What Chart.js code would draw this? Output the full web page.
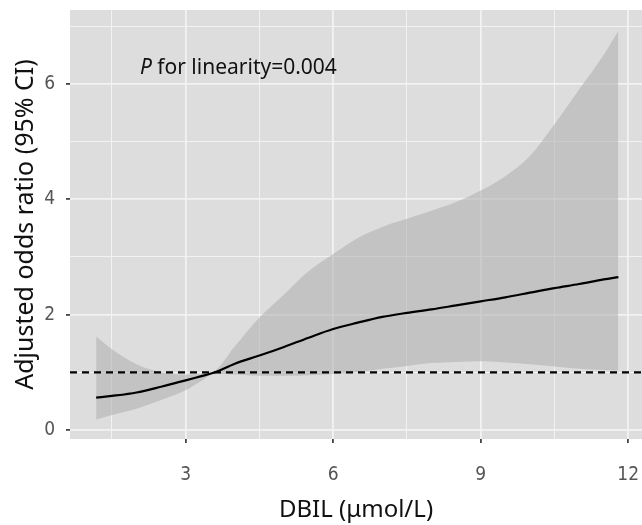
<!DOCTYPE html>
<html>
<head>
<meta charset="utf-8">
<script src="https://cdn.jsdelivr.net/npm/chart.js@4.4.0/dist/chart.umd.min.js"></script>
<style>
  html, body { margin: 0; padding: 0; background: #fff; }
  #wrap { width: 642px; height: 525px; }
</style>
</head>
<body>
<div id="wrap"><canvas id="rcsChart" width="642" height="525"></canvas></div>
<script>
// DBIL values (µmol/L)
const dbil = [1.18, 1.5, 2, 2.5, 3, 3.3, 3.6, 4, 4.5, 5, 5.5, 6, 6.5, 7, 7.5, 8, 8.5, 9, 9.5, 10, 10.5, 11, 11.5, 11.8];
// adjusted odds ratio and 95% CI
const oddsRatio = [0.56, 0.59, 0.65, 0.75, 0.86, 0.93, 1.00, 1.15, 1.29, 1.44, 1.60, 1.75, 1.86, 1.96, 2.03, 2.09, 2.16, 2.23, 2.30, 2.38, 2.46, 2.53, 2.61, 2.65];
const ciUpper = [1.62, 1.40, 1.14, 1.00, 0.96, 0.97, 1.03, 1.45, 1.95, 2.35, 2.75, 3.05, 3.33, 3.52, 3.66, 3.80, 3.95, 4.15, 4.40, 4.75, 5.30, 5.90, 6.50, 6.92];
const ciLower = [0.18, 0.26, 0.37, 0.52, 0.69, 0.84, 0.98, 0.96, 0.94, 0.94, 0.95, 0.97, 1.00, 1.06, 1.11, 1.16, 1.18, 1.19, 1.17, 1.14, 1.10, 1.06, 1.04, 1.03];
// reference line OR = 1
const refX = [0.648, 12.28];
const refY = [1, 1];

const xTicks = [1.5, 3, 4.5, 6, 7.5, 9, 10.5, 12];
const xTickLabels = [3, 6, 9, 12];
const yTicks = [0, 1, 2, 3, 4, 5, 6, 7];
const yTickLabels = [0, 2, 4, 6];

const pText = { x: 2.07, y: 6.27, italic: 'P', rest: ' for linearity=0.004' };

const toPoints = (xs, ys) => xs.map((x, i) => ({ x: x, y: ys[i] }));

// grey ggplot-like panel
const panelBackground = {
    id: 'panelBackground',
    beforeDraw(chart) {
        const { ctx, chartArea } = chart;
        ctx.save();
        ctx.fillStyle = '#dddddd';
        ctx.fillRect(chartArea.left, chartArea.top, chartArea.right - chartArea.left, chartArea.bottom - chartArea.top);
        ctx.restore();
    }
};

const pLabel = {
    id: 'pLabel',
    afterDatasetsDraw(chart) {
        const { ctx, scales } = chart;
        const x = scales.x.getPixelForValue(pText.x);
        const y = scales.y.getPixelForValue(pText.y);
        ctx.save();
        ctx.fillStyle = '#111';
        ctx.textBaseline = 'middle';
        ctx.font = 'italic 21px "Noto Sans", sans-serif';
        ctx.fillText(pText.italic, x, y);
        const w = ctx.measureText(pText.italic).width;
        ctx.font = '21px "Noto Sans", sans-serif';
        ctx.fillText(pText.rest, x + w, y);
        ctx.restore();
    }
};

const tickFont = { family: '"Liberation Sans Narrow", "DejaVu Sans Condensed", "Liberation Sans", sans-serif', size: 19 };

new Chart(document.getElementById('rcsChart'), {
    type: 'line',
    data: {
        datasets: [
            {
                label: 'upper',
                data: toPoints(dbil, ciUpper),
                borderWidth: 0,
                borderColor: 'rgba(0,0,0,0)',
                backgroundColor: 'rgba(174,174,174,0.56)',
                fill: '+1',
                pointRadius: 0,
                cubicInterpolationMode: 'monotone',
                order: 3
            },
            {
                label: 'lower',
                data: toPoints(dbil, ciLower),
                borderWidth: 0,
                borderColor: 'rgba(0,0,0,0)',
                fill: false,
                pointRadius: 0,
                cubicInterpolationMode: 'monotone',
                order: 2
            },
            {
                label: 'ref',
                data: toPoints(refX, refY),
                borderColor: '#000',
                borderWidth: 2.2,
                borderDash: [7, 5],
                fill: false,
                pointRadius: 0,
                order: 1
            },
            {
                label: 'OR',
                data: toPoints(dbil, oddsRatio),
                borderColor: '#000',
                borderWidth: 2.2,
                fill: false,
                pointRadius: 0,
                cubicInterpolationMode: 'monotone',
                order: 0
            }
        ]
    },
    options: {
        responsive: false,
        animation: false,
        layout: { padding: { top: 10, right: 0, bottom: 0, left: 0 } },
        plugins: {
            legend: { display: false },
            tooltip: { enabled: false }
        },
        scales: {
            x: {
                type: 'linear',
                min: 0.648,
                max: 12.28,
                afterBuildTicks: (scale) => {
                    scale.ticks = xTicks.map(v => ({ value: v }));
                },
                afterFit: (scale) => {
                    scale.height = 86;
                    scale.paddingLeft = 0;
                    scale.paddingRight = 0;
                },
                ticks: {
                    autoSkip: false,
                    maxRotation: 0,
                    padding: 21,
                    color: '#555',
                    font: tickFont,
                    callback: (v) => xTickLabels.includes(v) ? String(v) : ''
                },
                grid: {
                    color: '#f2f2f2',
                    lineWidth: (ctx) => (ctx.tick && xTickLabels.includes(ctx.tick.value)) ? 1.8 : 1,
                    tickColor: (ctx) => (ctx.tick && xTickLabels.includes(ctx.tick.value)) ? '#444' : 'rgba(0,0,0,0)',
                    tickLength: 4
                },
                border: { display: false },
                title: {
                    display: true,
                    text: 'DBIL (μmol/L)',
                    color: '#111',
                    font: { family: '"Noto Sans", sans-serif', size: 24 },
                    padding: { top: 2, bottom: 0 }
                }
            },
            y: {
                type: 'linear',
                min: -0.156,
                max: 7.28,
                afterBuildTicks: (scale) => {
                    scale.ticks = yTicks.map(v => ({ value: v }));
                },
                afterFit: (scale) => {
                    scale.width = 70;
                    scale.paddingTop = 0;
                    scale.paddingBottom = 0;
                },
                ticks: {
                    autoSkip: false,
                    padding: 11,
                    color: '#555',
                    font: tickFont,
                    callback: (v) => yTickLabels.includes(v) ? String(v) : ''
                },
                grid: {
                    color: '#f2f2f2',
                    lineWidth: (ctx) => (ctx.tick && yTickLabels.includes(ctx.tick.value)) ? 1.8 : 1,
                    tickColor: (ctx) => (ctx.tick && yTickLabels.includes(ctx.tick.value)) ? '#444' : 'rgba(0,0,0,0)',
                    tickLength: 4
                },
                border: { display: false },
                title: {
                    display: true,
                    text: 'Adjusted odds ratio (95% CI)',
                    color: '#111',
                    font: { family: '"Noto Sans", sans-serif', size: 25 },
                    padding: { top: 11, bottom: 0 }
                }
            }
        }
    },
    plugins: [panelBackground, pLabel]
});
</script>
</body>
</html>
